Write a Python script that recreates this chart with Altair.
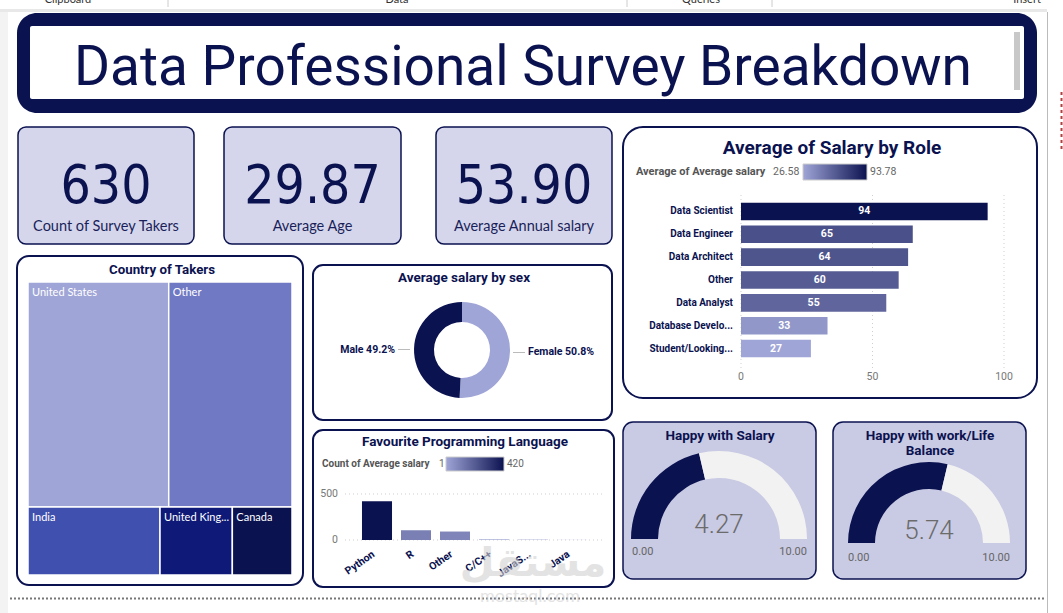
import math
import altair as alt
import pandas as pd

W, H = 1063, 613
NAVY = '#0b1250'
LIGHT = '#9fa5d6'
DIN = 'Roboto, DejaVu Sans Condensed, sans-serif'
DINC = 'DejaVu Sans Condensed, Roboto, sans-serif'
SEGOE = 'Lato, Open Sans, sans-serif'

# ---------------- data ----------------
kpi_labels = ['Count of Survey Takers', 'Average Age', 'Average Annual salary']
kpi_values = [630, 29.87, 53.90]
kpi_formats = ['d', '.2f', '.2f']

roles = ['Data Scientist', 'Data Engineer', 'Data Architect', 'Other',
         'Data Analyst', 'Database Developer', 'Student/Looking/None']
role_labels = ['Data Scientist', 'Data Engineer', 'Data Architect', 'Other',
               'Data Analyst', 'Database Develo...', 'Student/Looking...']
role_salary = [93.78, 65.31, 63.54, 59.95, 55.24, 32.90, 26.58]
role_ticks = [0, 50, 100]

countries = ['United States', 'Other', 'India', 'United Kingdom', 'Canada']
country_labels = ['United States', 'Other', 'India', 'United King...', 'Canada']
country_counts = [258, 226, 73, 40, 33]
country_colors = ['#9fa5d6', '#7079c3', '#4050ae', '#0f1a78', '#0b1250']

sexes = ['Female', 'Male']
sex_share = [50.8, 49.2]

langs = ['Python', 'R', 'Other', 'C/C++', 'JavaScript', 'Java']
lang_labels = ['Python', 'R', 'Other', 'C/C++', 'JavaS...', 'Java']
lang_counts = [420, 106, 92, 7, 4, 1]
lang_ticks = [0, 500]

gauge_titles = [['Happy with Salary'], ['Happy with work/Life', 'Balance']]
gauge_values = [4.27, 5.74]
gauge_min, gauge_max = 0, 10

ONE = pd.DataFrame({'k': [0]})


# ---------------- helpers (decoration) ----------------
def T(x, y, s, size=12, color=NAVY, font=DIN, weight='normal', align='left',
      baseline='alphabetic', opacity=1.0):
    return alt.Chart(pd.DataFrame({'s': [s]})).mark_text(
        fontSize=size, color=color, font=font, fontWeight=weight, align=align,
        baseline=baseline, opacity=opacity
    ).encode(x=alt.value(x), y=alt.value(y), text='s:N')


def R(x, x2, y, y2, fill, stroke=None, sw=0, r=0):
    kw = dict(fill=fill, cornerRadius=r)
    if stroke:
        kw.update(stroke=stroke, strokeWidth=sw)
    return alt.Chart(ONE).mark_rect(**kw).encode(
        x=alt.value(x), x2=alt.value(x2), y=alt.value(y), y2=alt.value(y2))


def L(x, x2, y, y2, color, sw=1, dash=None):
    kw = dict(color=color, strokeWidth=sw)
    if dash:
        kw['strokeDash'] = dash
    return alt.Chart(ONE).mark_rule(**kw).encode(
        x=alt.value(x), x2=alt.value(x2), y=alt.value(y), y2=alt.value(y2))


GRAD = alt.LinearGradient(gradient='linear', x1=0, x2=1, y1=0, y2=0,
                          stops=[alt.GradientStop(offset=0, color=LIGHT),
                                 alt.GradientStop(offset=1, color=NAVY)])

layers = []

# ---------------- page chrome ----------------
layers += [
    R(0, 8, 12, 613, '#f3f3f3'),
    R(0, 1047, 9, 12, '#e8e8e8'),
    L(168, 168, 0, 7, '#cccccc'), L(627, 627, 0, 7, '#cccccc'), L(772, 772, 0, 7, '#cccccc'),
    T(68, 3, 'Clipboard', 11, '#333', SEGOE, align='center'),
    T(397, 3, 'Data', 11, '#333', SEGOE, align='center'),
    T(701, 3, 'Queries', 11, '#333', SEGOE, align='center'),
    T(1027, 3, 'Insert', 11, '#333', SEGOE, align='center'),
    L(1047.5, 1047.5, 12, 613, '#bbbbbb'),
    L(1061.5, 1061.5, 92, 151, '#b04040', 2, [3, 3]),
    L(10, 1045, 598.5, 598.5, '#777777', 2, [2, 2]),
]

# ---------------- title ----------------
layers += [
    R(17, 1037, 13, 113, NAVY, r=20),
    R(30, 1024, 26, 99, 'white', r=2),
    R(1014, 1020, 32, 90, '#c8c8c8'),
    T(523, 85, 'Data Professional Survey Breakdown', 55, NAVY, DIN, align='center'),
]

# ---------------- KPI cards ----------------
kpi_boxes = [(18, 194), (224, 401), (436, 612)]
for (x0, x1), lab, val, fmt in zip(kpi_boxes, kpi_labels, kpi_values, kpi_formats):
    cx = (x0 + x1) / 2
    layers.append(R(x0, x1, 127, 244, '#d5d6eb', NAVY, 1.5, 8))
    layers.append(T(cx, 203, format(val, fmt), 53, NAVY, DINC, align='center'))
    layers.append(T(cx, 231, lab, 14.5, '#1a1f5a', SEGOE, align='center'))

# ---------------- panels ----------------
layers += [
    R(623, 1037, 127, 398, 'white', NAVY, 2, 20),
    R(17, 303, 256, 585, 'white', NAVY, 2, 12),
    R(313, 612, 265, 420, 'white', NAVY, 2, 10),
    R(313, 614, 430, 587, 'white', NAVY, 2, 10),
    R(623, 816, 422, 579, '#c9cae3', NAVY, 1.5, 10),
    R(833, 1026, 422, 579, '#c9cae3', NAVY, 1.5, 10),
]

# ---------------- bar chart: salary by role ----------------
role_df = pd.DataFrame({'role': roles, 'label': role_labels, 'salary': role_salary})
bx = alt.Scale(domain=[0, 100], range=[741, 1004], nice=False)
by = alt.Scale(domain=roles, range=[200, 360], paddingInner=0.23, paddingOuter=0.115)
bcol = alt.Scale(domain=[min(role_salary), max(role_salary)], range=[LIGHT, NAVY], interpolate='rgb')
rb = alt.Chart(role_df)
tick_df = pd.DataFrame({'t': role_ticks})
bar_panel = alt.layer(
    alt.Chart(tick_df).mark_rule(color='#cfcfcf', strokeDash=[1, 3]).encode(
        x=alt.X('t:Q', scale=bx, axis=None), y=alt.value(195), y2=alt.value(368)),
    rb.mark_bar().encode(
        x=alt.X('salary:Q', scale=bx, axis=None),
        y=alt.Y('role:N', scale=by, axis=None, sort=roles),
        color=alt.Color('salary:Q', scale=bcol, legend=None)),
    rb.mark_text(color='white', fontSize=10.5, font=DIN, fontWeight='bold').transform_calculate(
        mid='datum.salary / 2').encode(
        x=alt.X('mid:Q', scale=bx, axis=None),
        y=alt.Y('role:N', scale=by, axis=None, sort=roles),
        text=alt.Text('salary:Q', format='.0f')),
    rb.mark_text(color=NAVY, fontSize=10, font=DIN, fontWeight='bold', align='right').encode(
        x=alt.value(733),
        y=alt.Y('role:N', scale=by, axis=None, sort=roles),
        text='label:N'),
    alt.Chart(tick_df).mark_text(color='#777777', fontSize=10.5, font=DIN).encode(
        x=alt.X('t:Q', scale=bx, axis=None), y=alt.value(377), text='t:Q'),
)
layers.append(bar_panel)
layers += [
    T(832, 154, 'Average of Salary by Role', 19, NAVY, DIN, 'bold', 'center'),
    T(636, 172, 'Average of Average salary', 11, '#555555', DIN, 'bold', baseline='middle'),
    T(773, 172, format(min(role_salary), '.2f'), 10.5, '#666666', DIN, baseline='middle'),
    R(803, 867, 164, 180, GRAD, '#cccccc', 1),
    T(870, 172, format(max(role_salary), '.2f'), 10.5, '#666666', DIN, baseline='middle'),
]

# ---------------- treemap: country ----------------
tot = sum(country_counts)
cells = []
yy = 0.0
for a, b in [(0, 2), (2, len(countries))]:
    rs = sum(country_counts[a:b])
    h = rs / tot
    xx = 0.0
    for i in range(a, b):
        w = country_counts[i] / rs
        cells.append(dict(country=countries[i], label=country_labels[i],
                          x0=xx, x1=xx + w, y0=yy, y1=yy + h))
        xx += w
    yy += h
cell_df = pd.DataFrame(cells)
tx = alt.Scale(domain=[0, 1], range=[28, 292], nice=False, zero=False)
ty = alt.Scale(domain=[0, 1], range=[282, 575], nice=False, zero=False)
tc = alt.Chart(cell_df)
tree_panel = alt.layer(
    tc.mark_rect(stroke='white', strokeWidth=1.5).encode(
        x=alt.X('x0:Q', scale=tx, axis=None), x2='x1:Q',
        y=alt.Y('y0:Q', scale=ty, axis=None), y2='y1:Q',
        color=alt.Color('country:N', scale=alt.Scale(domain=countries, range=country_colors), legend=None)),
    tc.mark_text(color='white', fontSize=11, font=SEGOE, align='left', baseline='top', dx=4, dy=5).encode(
        x=alt.X('x0:Q', scale=tx, axis=None), y=alt.Y('y0:Q', scale=ty, axis=None), text='label:N'),
)
layers.append(tree_panel)
layers.append(T(162, 274, 'Country of Takers', 13.3, NAVY, DIN, 'bold', 'center'))

# ---------------- donut: salary by sex ----------------
sex_df = pd.DataFrame({'sex': sexes, 'share': sex_share, 'ord': list(range(len(sexes)))})
donut = alt.Chart(sex_df).mark_arc(innerRadius=28, outerRadius=48).encode(
    theta=alt.Theta('share:Q', stack=True),
    order=alt.Order('ord:Q'),
    color=alt.Color('sex:N', scale=alt.Scale(domain=sexes, range=[LIGHT, NAVY]), legend=None),
    x=alt.value(462), y=alt.value(350))
layers.append(donut)
donut_label_pos = {'Female': (528, 352, 'left'), 'Male': (395, 350, 'right')}
for sx in sexes:
    px, py, al = donut_label_pos[sx]
    layers.append(alt.Chart(sex_df).transform_filter(alt.datum.sex == sx).transform_calculate(
        lbl="datum.sex + ' ' + format(datum.share, '.1f') + '%'").mark_text(
        fontSize=10.5, font=DIN, fontWeight='bold', color=NAVY, align=al, baseline='middle').encode(
        x=alt.value(px), y=alt.value(py), text='lbl:N'))
layers += [
    L(398, 410, 349.5, 349.5, '#bbbbbb'),
    L(513, 525, 352.5, 352.5, '#bbbbbb'),
    T(464, 282, 'Average salary by sex', 13.5, NAVY, DIN, 'bold', 'center'),
]

# ---------------- column chart: programming language ----------------
lang_df = pd.DataFrame({'lang': langs, 'label': lang_labels, 'count': lang_counts})
lx = alt.Scale(domain=langs, range=[357.5, 591.5], paddingInner=0.23, paddingOuter=0.115)
ly = alt.Scale(domain=[0, 500], range=[540, 494], nice=False)
lcol = alt.Scale(domain=[min(lang_counts), max(lang_counts)], range=[LIGHT, NAVY], interpolate='rgb')
ltick = pd.DataFrame({'t': lang_ticks})
lc = alt.Chart(lang_df)
lang_panel = alt.layer(
    alt.Chart(ltick).mark_rule(color='#cfcfcf', strokeDash=[1, 3]).encode(
        y=alt.Y('t:Q', scale=ly, axis=None), x=alt.value(345), x2=alt.value(603)),
    alt.Chart(ltick).mark_text(color='#777777', fontSize=10.5, font=DIN, align='right', baseline='middle').encode(
        y=alt.Y('t:Q', scale=ly, axis=None), x=alt.value(338), text='t:Q'),
    lc.mark_bar().encode(
        x=alt.X('lang:N', scale=lx, axis=None, sort=langs),
        y=alt.Y('count:Q', scale=ly, axis=None),
        color=alt.Color('count:Q', scale=lcol, legend=None)),
    lc.mark_text(color=NAVY, fontSize=10.5, font=DIN, fontWeight='bold', align='right',
                 baseline='middle', angle=325, dx=-4).encode(
        x=alt.X('lang:N', scale=lx, axis=None, sort=langs), y=alt.value(551), text='label:N'),
)
layers.append(lang_panel)
layers += [
    T(465, 446, 'Favourite Programming Language', 13.5, NAVY, DIN, 'bold', 'center'),
    T(322, 464, 'Count of Average salary', 10, '#555555', DIN, 'bold', baseline='middle'),
    T(439, 464, format(min(lang_counts), 'd'), 10, '#666666', DIN, baseline='middle'),
    R(446, 504, 457, 471, GRAD, '#cccccc', 1),
    T(507, 464, format(max(lang_counts), 'd'), 10, '#666666', DIN, baseline='middle'),
]

# ---------------- gauges ----------------
gauge_geo = [  # cx, cy, outer, inner, value baseline, minmax baseline, min x, max x, title x
    (719, 539, 88, 61, 533, 555, 632, 807, 720),
    (929, 543, 81, 54, 539, 561, 848, 1010, 930),
]
gth = alt.Scale(domain=[gauge_min, gauge_max], range=[-math.pi / 2, math.pi / 2])
for titles, v, (cx, cy, ro, ri, vb, mb, mnx, mxx, tx_) in zip(gauge_titles, gauge_values, gauge_geo):
    gdf = pd.DataFrame({'seg': ['value', 'rest'], 'start': [gauge_min, v], 'end': [v, gauge_max]})
    layers.append(alt.Chart(gdf).mark_arc(innerRadius=ri, outerRadius=ro).encode(
        theta=alt.Theta('start:Q', scale=gth, stack=False), theta2='end:Q',
        color=alt.Color('seg:N', scale=alt.Scale(domain=['value', 'rest'], range=[NAVY, '#f2f2f2']), legend=None),
        x=alt.value(cx), y=alt.value(cy)))
    layers.append(T(cx, vb, format(v, '.2f'), 26, '#6b6b6b', DIN, 300, 'center'))
    layers.append(T(mnx, mb, format(gauge_min, '.2f'), 11, '#666666', DIN))
    layers.append(T(mxx, mb, format(gauge_max, '.2f'), 11, '#666666', DIN, align='right'))
    for k, line in enumerate(titles):
        layers.append(T(tx_, 440 + 15 * k, line, 13.5, NAVY, DIN, 'bold', 'center'))

# ---------------- watermark ----------------
layers += [
    T(533, 576, 'مستقل', 40, '#d2d2d2', 'DejaVu Sans', 'bold', 'center', opacity=0.6),
    T(530, 602, 'mostaql.com', 18, '#d2d2d2', SEGOE, 'normal', 'center', opacity=0.6),
]

chart = alt.layer(*layers).resolve_scale(
    x='independent', y='independent', color='independent', theta='independent'
).properties(
    width=W, height=H, padding=0, autosize='none', background='white'
).configure_view(stroke=None)

chart.save('out.html', embed_options={'renderer': 'svg', 'actions': False})
